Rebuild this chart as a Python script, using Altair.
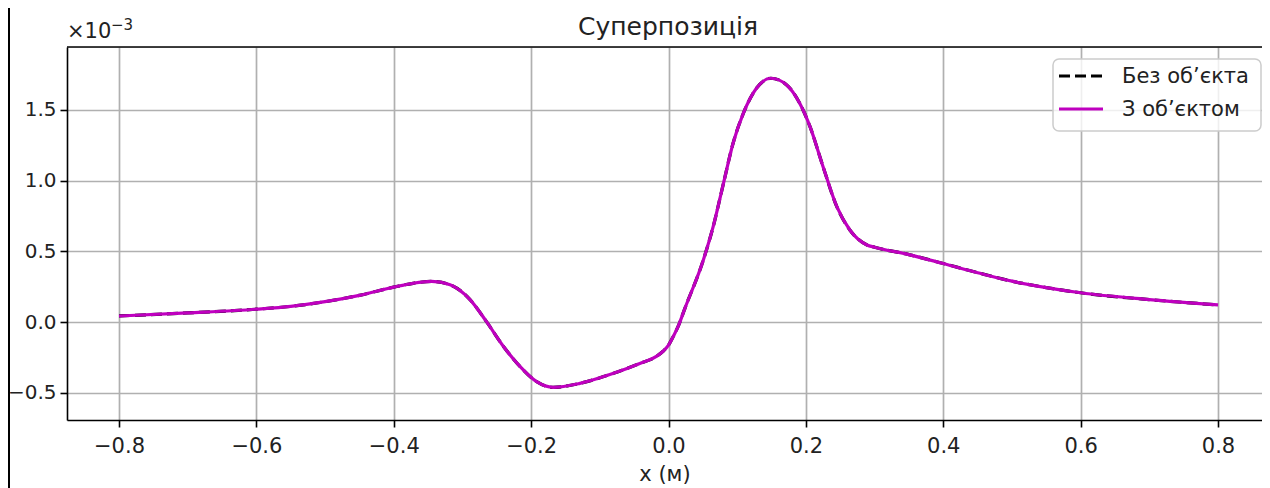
import altair as alt
import pandas as pd

# x positions (m) and field values (x 1e-3)
x_vals = [-0.8, -0.7, -0.6, -0.55, -0.5, -0.45, -0.4, -0.372, -0.345,
          -0.318, -0.289, -0.265, -0.24, -0.216, -0.192, -0.168, -0.129, -0.08, -0.04,
          -0.017, -0.008, 0.0, 0.007, 0.014, 0.024, 0.0507, 0.065, 0.08, 0.094, 0.109, 0.128,
          0.149, 0.172, 0.191, 0.206, 0.225, 0.245, 0.264, 0.289, 0.3, 0.35,
          0.4, 0.45, 0.5, 0.55, 0.6, 0.7, 0.8]
y_without = [0.044, 0.066, 0.092, 0.112, 0.145, 0.190, 0.248, 0.275, 0.288,
             0.265, 0.160, 0.004, -0.173, -0.314, -0.420, -0.460, -0.432, -0.361, -0.288,
             -0.24, -0.205, -0.162, -0.10, -0.03, 0.10, 0.44, 0.675, 0.982, 1.265, 1.477, 1.653,
             1.724, 1.677, 1.547, 1.382, 1.099, 0.817, 0.652, 0.546, 0.530, 0.478,
             0.415, 0.350, 0.290, 0.245, 0.208, 0.160, 0.122]
y_with = list(y_without)

series_names = ["Без об’єкта", "З об’єктом"]
x_ticks = [-0.8, -0.6, -0.4, -0.2, 0.0, 0.2, 0.4, 0.6, 0.8]
y_ticks = [-0.5, 0.0, 0.5, 1.0, 1.5]

title_text = "Суперпозиція"
x_title = "x (м)"

W, H = 1195, 373
FONT = "DejaVu Sans"
TXT = "#222222"

df0 = pd.DataFrame({"x": x_vals, "y": y_without, "s": series_names[0]})
df1 = pd.DataFrame({"x": x_vals, "y": y_with, "s": series_names[1]})

xs = alt.Scale(domain=[-0.8757, 0.864], nice=False, zero=False)
ys = alt.Scale(domain=[-0.691, 1.945], nice=False, zero=False)

xenc = alt.X("x:Q", scale=xs, axis=alt.Axis(
    values=x_ticks, format=".1f", title=x_title, grid=True,
    gridColor="#b0b0b0", gridWidth=1.7, domainColor="black", domainWidth=1.6,
    tickColor="black", tickWidth=1.6, tickSize=7, labelPadding=8,
    labelFont=FONT, labelFontSize=21, labelColor=TXT,
    titleFont=FONT, titleFontSize=21, titleFontWeight="normal", titleColor=TXT,
    titlePadding=7, labelFlush=False))
yenc = alt.Y("y:Q", scale=ys, axis=alt.Axis(
    values=y_ticks, format=".1f", title=None, grid=True,
    gridColor="#b0b0b0", gridWidth=1.7, domainColor="black", domainWidth=1.6,
    tickColor="black", tickWidth=1.6, tickSize=7, labelPadding=4,
    labelFont=FONT, labelFontSize=20, labelColor=TXT, labelFlush=False))

line0 = alt.Chart(df0).mark_line(color="black", strokeWidth=3.2, strokeDash=[11, 5],
                                 interpolate="monotone").encode(x=xenc, y=yenc)
line1 = alt.Chart(df1).mark_line(color="#bf00bf", strokeWidth=3.2,
                                 interpolate="monotone").encode(x=xenc, y=yenc)

one = pd.DataFrame({"a": [0]})

top_spine = alt.Chart(one).mark_rule(color="black", strokeWidth=1.6).encode(
    x=alt.value(0), x2=alt.value(W), y=alt.value(0))
left_edge = alt.Chart(one).mark_rule(color="black", strokeWidth=2).encode(
    x=alt.value(-58), y=alt.value(-60), y2=alt.value(H + 80))

title = alt.Chart(one).mark_text(text=title_text, font=FONT, fontSize=25,
                                 color=TXT, align="center", baseline="alphabetic").encode(
    x=alt.value(601), y=alt.value(-12))
off1 = alt.Chart(one).mark_text(text="×10", font=FONT, fontSize=21, color=TXT,
                                align="left", baseline="alphabetic").encode(
    x=alt.value(0), y=alt.value(-9))
off2 = alt.Chart(one).mark_text(text="−3", font=FONT, fontSize=15, color=TXT,
                                align="left", baseline="alphabetic").encode(
    x=alt.value(44), y=alt.value(-17))

# legend
leg_box = alt.Chart(one).mark_rect(fill="white", fillOpacity=0.8, stroke="#cccccc",
                                   strokeWidth=1.5, cornerRadius=6).encode(
    x=alt.value(986), x2=alt.value(1194), y=alt.value(12), y2=alt.value(84))
leg_l0 = alt.Chart(one).mark_rule(color="black", strokeWidth=3.2, strokeDash=[11, 5]).encode(
    x=alt.value(992), x2=alt.value(1036), y=alt.value(29))
leg_l1 = alt.Chart(one).mark_rule(color="#bf00bf", strokeWidth=3.2).encode(
    x=alt.value(992), x2=alt.value(1036), y=alt.value(62))
leg_t0 = alt.Chart(one).mark_text(text=series_names[0], font=FONT, fontSize=21,
                                  color=TXT, align="left", baseline="middle").encode(
    x=alt.value(1055), y=alt.value(30))
leg_t1 = alt.Chart(one).mark_text(text=series_names[1], font=FONT, fontSize=21,
                                  color=TXT, align="left", baseline="middle").encode(
    x=alt.value(1055), y=alt.value(63))

chart = alt.layer(line0, line1, top_spine, left_edge, title, off1, off2,
                  leg_box, leg_l0, leg_l1, leg_t0, leg_t1).properties(
    width=W, height=H,
    autosize=alt.AutoSizeParams(type="none"),
    padding={"left": 59, "top": 39, "right": 0, "bottom": 68},
).configure_view(stroke=None).configure(background="white")

chart.save("out.html", embed_options={"renderer": "svg", "actions": False})
